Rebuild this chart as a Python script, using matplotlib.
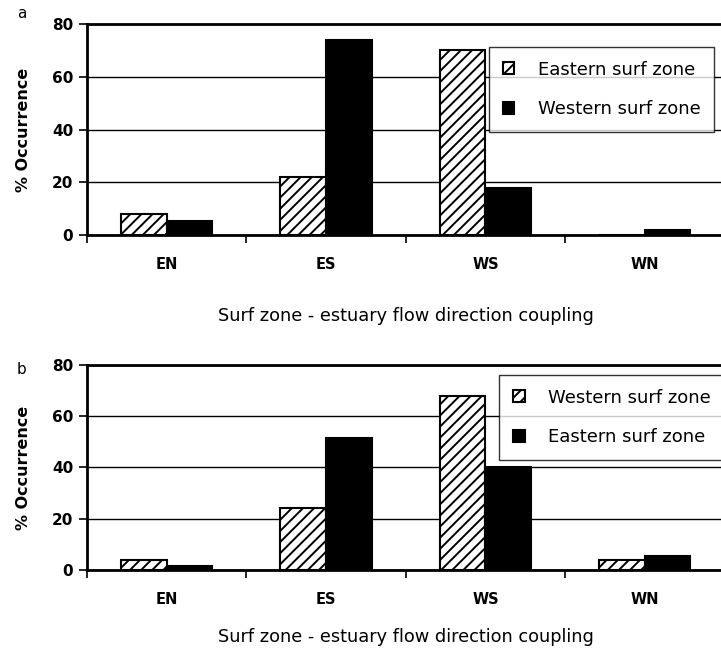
import matplotlib
matplotlib.use('Agg')
import matplotlib.pyplot as plt
import numpy as np

plt.rcParams.update({
    'font.family': 'DejaVu Sans',
    'hatch.linewidth': 1.4,
    'hatch.color': 'black',
})

categories = ['EN', 'ES', 'WS', 'WN']

# panel a
a_labels = ['Eastern surf zone', 'Western surf zone']
a_hatched = [8, 22, 70, 0]
a_solid = [5.5, 74, 18, 2]

# panel b
b_labels = ['Western surf zone', 'Eastern surf zone']
b_hatched = [4, 24, 68, 4]
b_solid = [1.5, 51.5, 40, 5.5]

yticks = [0, 20, 40, 60, 80]
xlabel = 'Surf zone - estuary flow direction coupling'

fig = plt.figure(figsize=(7.21, 6.51), dpi=100)
ax_a = fig.add_axes([0.1207, 0.639, 0.884, 0.324])
ax_b = fig.add_axes([0.1207, 0.1244, 0.884, 0.315])

W = 0.287


def draw_panel(ax, hatched, solid, labels, letter, letter_y, legend_bbox, xlabpad):
    x = np.arange(len(categories))
    ax.set_axisbelow(True)
    ax.yaxis.grid(True, color='black', linewidth=1.0)
    ax.bar(x - W / 2, hatched, W, facecolor='white', edgecolor='black',
           hatch='///', linewidth=1.5, label=labels[0], zorder=3)
    ax.bar(x + W / 2, solid, W, facecolor='black', edgecolor='black',
           linewidth=1.5, label=labels[1], zorder=3)
    ax.set_xlim(-0.5, 3.5)
    ax.set_ylim(0, 80)
    ax.set_yticks(yticks)
    ax.set_yticklabels([str(t) for t in yticks], fontsize=11, fontweight='bold')
    ax.set_xticks(np.arange(-0.5, 4.0, 1.0))
    ax.set_xticklabels([])
    ax.set_xticks(x, minor=True)
    ax.set_xticklabels(categories, minor=True, fontsize=10.5, fontweight='bold')
    ax.tick_params(axis='x', which='major', length=6, width=1.2, direction='out')
    ax.tick_params(axis='x', which='minor', length=0, pad=16)
    ax.tick_params(axis='y', length=6, width=1.2, pad=4)
    for s in ['left', 'top', 'bottom']:
        ax.spines[s].set_linewidth(2)
    ax.spines['right'].set_visible(False)
    ax.set_ylabel('% Occurrence', fontsize=11.5, fontweight='bold', labelpad=15)
    ax.set_xlabel(xlabel, fontsize=12.8, labelpad=xlabpad)
    ax.text(-0.11, letter_y, letter, transform=ax.transAxes, fontsize=11,
            ha='left', va='center')
    leg = ax.legend(loc='upper left', bbox_to_anchor=legend_bbox,
                    fontsize=13, frameon=True, fancybox=False,
                    edgecolor='black', handlelength=0.65, handleheight=0.65,
                    borderpad=0.75, labelspacing=1.2, handletextpad=1.3,
                    borderaxespad=0)
    leg.get_frame().set_linewidth(1.0)
    leg.set_zorder(5)


draw_panel(ax_a, a_hatched, a_solid, a_labels, 'a', 1.052, (0.631, 0.891), 25)
draw_panel(ax_b, b_hatched, b_solid, b_labels, 'b', 0.98, (0.647, 0.951), 15)

fig.savefig('out.png', dpi=100, facecolor='white')
